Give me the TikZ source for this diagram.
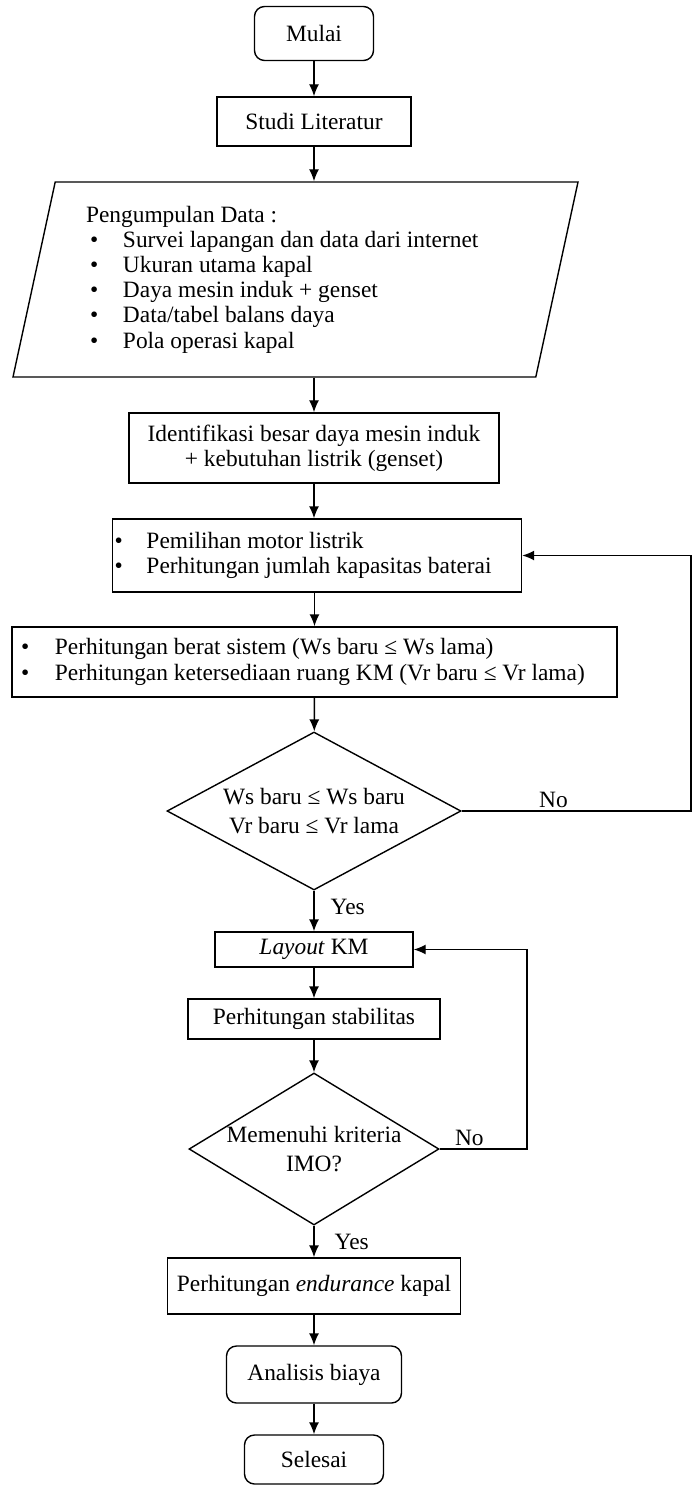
\documentclass[tikz,border=0pt]{standalone}
\usepackage{fontspec}
\setmainfont{Liberation Serif}
\usepackage{tikz}
\usetikzlibrary{shapes.geometric, arrows.meta}

% bullet with optional indent
\newcommand{\bitem}[2][0pt]{\hspace*{#1}\makebox[#2][l]{\textbullet}}

\begin{document}
\begin{tikzpicture}[
        x=0.5pt, y=-0.5pt, % pixel grid, y downwards
        >={Latex[length=6pt, width=5pt]},
        line width=0.7pt,
        font=\fontsize{11.7pt}{12.6pt}\selectfont,
        terminal/.style={rectangle, rounded corners=5pt, draw, align=center, inner sep=0pt},
        process/.style={rectangle, draw, align=center, inner sep=0pt},
        listbox/.style={rectangle, draw, align=flush left, inner ysep=0pt},
        io/.style={trapezium, trapezium left angle=74, trapezium right angle=106,
                   trapezium stretches body, draw, align=flush left, inner sep=0pt},
        decision/.style={diamond, draw, align=center, inner sep=0pt,
                         font=\fontsize{11.7pt}{14.5pt}\selectfont},
        every edge/.style={draw, ->},
        lbl/.style={inner sep=0pt} % Consistent label style
      ]
        \useasboundingbox (0,0) rectangle (692,1486);

        % Main column
        \node[terminal, minimum width=59.5pt, minimum height=27pt] (mulai) at (314,33.5) {Mulai};
        \node[process, minimum width=97pt, minimum height=24.5pt] (studi) at (314,121.5) {Studi Literatur};
        \node[io, minimum width=282.5pt, minimum height=97.5pt, text width=209.5pt] (data) at (295.5,279.5) {%
            Pengumpulan Data :\\
            \bitem[2pt]{16.5pt}Survei lapangan dan data dari internet\\
            \bitem[2pt]{16.5pt}Ukuran utama kapal\\
            \bitem[2pt]{16.5pt}Daya mesin induk + genset\\
            \bitem[2pt]{16.5pt}Data/tabel balans daya\\
            \bitem[2pt]{16.5pt}Pola operasi kapal};
        \node[process, minimum width=185pt, minimum height=35pt] (ident) at (314,448)
            {Identifikasi besar daya mesin induk\\+ kebutuhan listrik (genset)};
        \node[listbox, inner xsep=1pt, text width=202.5pt, minimum height=36.5pt] (pilih) at (317,555.5) {%
            \bitem{16pt}Pemilihan motor listrik\\
            \bitem{16pt}Perhitungan jumlah kapasitas baterai};
        \node[listbox, inner xsep=4.5pt, text width=293.5pt, minimum height=35pt] (berat) at (314.5,662) {%
            \bitem{17pt}Perhitungan berat sistem (Ws baru ≤ Ws lama)\\
            \bitem{17pt}Perhitungan ketersediaan ruang KM (Vr baru ≤ Vr lama)};
        \node[decision, minimum width=147pt, minimum height=79pt, aspect=1.86] (cek) at (314,811)
            {Ws baru ≤ Ws baru\\Vr baru ≤ Vr lama};
        \node[process, minimum width=99pt, minimum height=17.5pt] (layout) at (314,949.5) {\textit{Layout} KM};
        \node[process, minimum width=126pt, minimum height=20pt] (stabil) at (314,1019) {Perhitungan stabilitas};
        \node[decision, minimum width=125pt, minimum height=76pt, aspect=1.64, inner xsep=-5pt] (imo) at (314,1149)
            {Memenuhi kriteria\\IMO?};
        \node[process, minimum width=146.5pt, minimum height=28pt] (endur) at (314,1286)
            {Perhitungan \textit{endurance} kapal};
        \node[terminal, minimum width=87.5pt, minimum height=28.5pt] (biaya) at (314,1374.5) {Analisis biaya};
        \node[terminal, minimum width=69.5pt, minimum height=24.5pt] (selesai) at (314,1459.5) {Selesai};

        % Turning points of the return loops
        \coordinate (turn1) at (691,555.5);
        \coordinate (turn2) at (527,949.5);

        % Transitions going downwards
        \path
        (mulai) edge (studi)
        (studi) edge (studi |- data.north)
        (ident |- data.south) edge (ident)
        (ident) edge (ident |- pilih.north)
        (berat |- pilih.south) edge (berat)
        (berat) edge (cek)
        (cek) edge node[lbl, right=8pt, pos=0.4] {Yes} (layout)
        (layout) edge (stabil)
        (stabil) edge (imo)
        (imo) edge node[lbl, right=10pt, pos=0.5] {Yes} (endur)
        (endur) edge (biaya)
        (biaya) edge (selesai);

        % Return paths
        \draw[->] (cek.east) -| node[lbl, above=1.5pt, pos=0.2] {No} (turn1) -- (pilih.east);
        \draw[->] (imo.east) -| node[lbl, above=1.5pt, pos=0.17] {No} (turn2) -- (layout.east);
    \end{tikzpicture}
\end{document}
